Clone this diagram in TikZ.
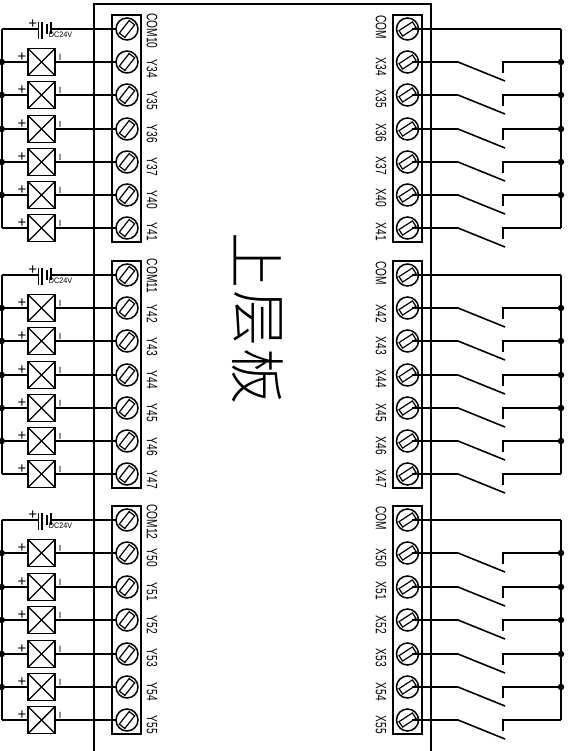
\documentclass[tikz,border=0pt]{standalone}
\usepackage{fontspec}
\setmainfont{Liberation Sans}
\newfontfamily\cjkthin{Noto Sans CJK SC Light}
\begin{document}
\begin{tikzpicture}[x=1pt,y=-1pt,
  wire/.style={line width=1.6pt,line cap=butt,line join=miter},
  thinw/.style={line width=1.3pt},
  strip/.style={draw,line width=1.5pt,minimum width=29pt,inner sep=0pt,outer sep=0pt,anchor=north},
  term/.style={draw,circle,line width=1.5pt,minimum size=22pt,inner sep=0pt,outer sep=0pt},
  lslot/.style={draw,rotate=52,line width=1.2pt,minimum width=16pt,minimum height=7pt,inner sep=0pt,outer sep=0pt},
  rslot/.style={draw,rotate=33,line width=1.2pt,minimum width=16pt,minimum height=6.5pt,inner sep=0pt,outer sep=0pt},
  lamp/.style={draw,line width=1.6pt,minimum size=27pt,inner sep=0pt,outer sep=0pt},
  lab/.style={rotate=-90,font=\fontsize{15}{15}\selectfont,inner sep=0pt},
  tiny/.style={font=\fontsize{15}{15}\selectfont,inner sep=0pt},
  dot/.style={circle,fill=black,minimum size=6.5pt,inner sep=0pt,outer sep=0pt},
  cjk/.style={rotate=-90,font=\cjkthin\fontsize{56}{56}\selectfont,inner sep=0pt}]
\useasboundingbox (0,0) rectangle (571,751);
\fill[white] (0,0) rectangle (571,751);
% board outline
\coordinate (b1) at (94,751); \coordinate (b2) at (94,4); \coordinate (b3) at (431,4); \coordinate (b4) at (431,751);
\draw[wire] (b1) -- (b2) -- (b3) -- (b4);
% terminal strips
\foreach \n/\t/\h in {1/15/227,2/261/227,3/506/228}{
  \node[strip,minimum height=\h pt] (ls\n) at (126.5,\t) {};
  \node[strip,minimum height=\h pt] (rs\n) at (407.5,\t) {};
}
% COM rows
\foreach \n/\y/\ly/\txt/\rly in {1/29/31/COM10/27,2/275/276/COM11/273,3/520/522/COM12/518}{
  \node[term] (lc\n) at (127,\y) {};
  \node[lslot] (ls\n x) at (lc\n) {};
  \node[term] (rc\n) at (407.5,\y) {};
  \node[rslot] (rs\n x) at (rc\n) {};
  \node[lab] (lct\n) at (152,\ly) {\scalebox{.68}[1]{\txt}};
  \node[lab] (rct\n) at (381,\rly) {\scalebox{.68}[1]{COM}};
  \coordinate (rt\n) at (1.7,\y);
  \coordinate (rr\n) at (561,\y);
  \coordinate (rw\n) at (412,\y);
  \coordinate (ba\n) at (38.5,\y);
  \coordinate (bb\n) at (42,\y);
  \coordinate (bc\n) at (47,\y);
  \coordinate (bd\n) at (51,\y);
  \draw[wire] (rt\n) -- (ba\n);
  \draw[wire] (bd\n) -- (lc\n);
  \draw[thinw] ([yshift=7pt]ba\n) -- ([yshift=-10pt]ba\n);
  \draw[thinw] ([yshift=7pt]bb\n) -- ([yshift=-10pt]bb\n);
  \draw[line width=1.8pt] ([yshift=5pt]bc\n) -- ([yshift=-5pt]bc\n);
  \draw[thinw] ([yshift=7pt]bd\n) -- ([yshift=-5pt]bd\n);
  \node[tiny] (bp\n) at (32.7,\y-4.5) {+};
  \node[font=\fontsize{8}{8}\selectfont,inner sep=0pt] (bt\n) at (60.5,\y+6) {\scalebox{.9}[1]{DC24V}};
  \draw[wire] (rw\n) -- (rr\n);
}
% rows: id / group / y / left label / its y / right label / its y / has dot
\foreach \i/\g/\y/\ll/\lly/\rl/\rly/\dt in {
 a/1/62/Y34/69/X34/67/1, b/1/95/Y35/101/X35/99/1, c/1/129/Y36/134/X36/133/1,
 d/1/162/Y37/167/X37/166/1, e/1/195/Y40/200/X40/198/1, f/1/228/Y41/232/X41/232/0,
 g/2/308/Y42/314/X42/314/1, h/2/341/Y43/347/X43/346/1, i/2/375/Y44/380/X44/379/1,
 j/2/408/Y45/413/X45/413/1, k/2/441/Y46/447/X46/446/1, l/2/474/Y47/480/X47/479/0,
 m/3/553/Y50/558/X50/558/1, n/3/587/Y51/592/X51/591/1, o/3/620/Y52/625/X52/625/1,
 p/3/654/Y53/658/X53/658/1, q/3/687/Y54/692/X54/692/1, r/3/720/Y55/725/X55/725/0}{
  % left side
  \node[term] (lt\i) at (127,\y) {};
  \node[lslot] (lx\i) at (lt\i) {};
  \node[lab] (ll\i) at (152,\lly) {\scalebox{.68}[1]{\ll}};
  \node[lamp] (la\i) at (41.5,\y) {};
  \draw[line width=1.4pt] (la\i.north west) -- (la\i.south east);
  \draw[line width=1.4pt] (la\i.south west) -- (la\i.north east);
  \coordinate (lr\i) at (1.7,\y);
  \draw[wire] (lr\i) -- (la\i);
  \draw[wire] (la\i) -- (lt\i);
  \node[tiny] (pl\i) at (22,\y-5) {+};
  \node[font=\fontsize{9}{9}\selectfont,inner sep=0pt] (mi\i) at (60,\y-5) {I};
  % right side
  \node[term] (rt\i) at (407.5,\y) {};
  \node[rslot] (rx\i) at (rt\i) {};
  \node[lab] (rl\i) at (381,\rly) {\scalebox{.68}[1]{\rl}};
  \coordinate (rw\i) at (412,\y);
  \coordinate (sa\i) at (458,\y);
  \coordinate (sb\i) at (505,\y+19);
  \coordinate (ca\i) at (503,\y+11);
  \coordinate (cb\i) at (503,\y);
  \coordinate (rr\i) at (561,\y);
  \draw[wire] (rw\i) -- (sa\i) -- (sb\i);
  \draw[wire] (ca\i) -- (cb\i) -- (rr\i);
  \ifnum\dt=1
    \node[dot] (ld\i) at (lr\i) {};
    \node[dot] (rd\i) at (rr\i) {};
  \fi
}
% rails
\draw[wire] (rt1) -- (lrf);
\draw[wire] (rt2) -- (lrl);
\draw[wire] (rt3) -- (lrr);
\draw[wire] (rr1) -- (rrf);
\draw[wire] (rr2) -- (rrl);
\draw[wire] (rr3) -- (rrr);
% title
\node[cjk] (t1) at (258,260) {上};
\node[cjk] (t2) at (258,318) {层};
\node[cjk] (t3) at (258,376) {板};
\end{tikzpicture}
\end{document}
